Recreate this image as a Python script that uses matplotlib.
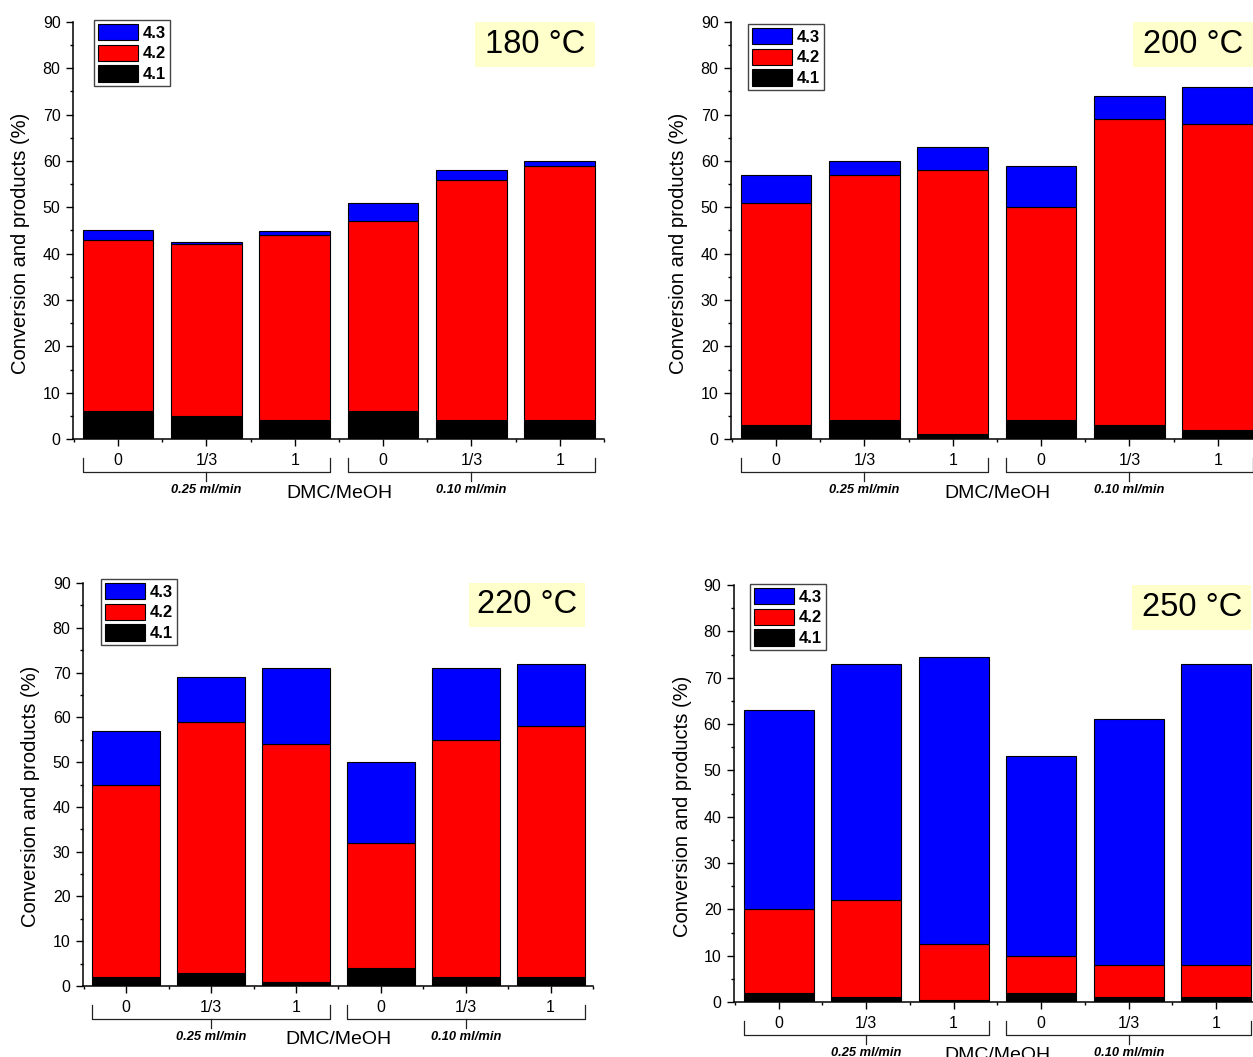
import matplotlib
matplotlib.use("Agg")
import matplotlib.pyplot as plt
from matplotlib.patches import Rectangle
from matplotlib.transforms import blended_transform_factory
import numpy as np

plt.rcParams['font.family'] = ['Liberation Sans', 'DejaVu Sans']

W, H, DPI = 1253, 1057, 100

# DMC/MeOH ratios (two feed flow groups of three)
ratio_labels = ["0", "1/3", "1", "0", "1/3", "1"]
flow_labels = ["0.25 ml/min", "0.10 ml/min"]
series_names = ["4.1", "4.2", "4.3"]
series_colors = ["#000000", "#FF0000", "#0000FF"]

# Product yields (%) per temperature, stacked 4.1 / 4.2 / 4.3
temp_180 = "180 °C"
p41_180 = [6, 5, 4, 6, 4, 4]
p42_180 = [37, 37, 40, 41, 52, 55]
p43_180 = [2, 0.5, 1, 4, 2, 1]

temp_200 = "200 °C"
p41_200 = [3, 4, 1, 4, 3, 2]
p42_200 = [48, 53, 57, 46, 66, 66]
p43_200 = [6, 3, 5, 9, 5, 8]

temp_220 = "220 °C"
p41_220 = [2, 3, 1, 4, 2, 2]
p42_220 = [43, 56, 53, 28, 53, 56]
p43_220 = [12, 10, 17, 18, 16, 14]

temp_250 = "250 °C"
p41_250 = [2, 1, 0.5, 2, 1, 1]
p42_250 = [18, 21, 12, 8, 7, 7]
p43_250 = [43, 51, 62, 43, 53, 65]

panels = [
    # (title, series, axes box in pixels: left, right, top, bottom, legend corner)
    (temp_180, (p41_180, p42_180, p43_180), (73, 604, 22, 439), (94, 20)),
    (temp_200, (p41_200, p42_200, p43_200), (731, 1262, 22, 439), (748, 24)),
    (temp_220, (p41_220, p42_220, p43_220), (83, 593, 583, 986), (101, 579)),
    (temp_250, (p41_250, p42_250, p43_250), (734, 1260, 585, 1002), (750, 584)),
]

fig = plt.figure(figsize=(W / DPI, H / DPI), dpi=DPI)

x = np.arange(len(ratio_labels))

for title, series, (l, r, t, b), (lx, ly) in panels:
    w_px, h_px = r - l, b - t
    ax = fig.add_axes([l / W, 1 - b / H, w_px / W, h_px / H])
    bottom = np.zeros(len(x))
    bars = []
    for vals, name, col in zip(series, series_names, series_colors):
        vals = np.asarray(vals, dtype=float)
        bc = ax.bar(x, vals, width=0.8, bottom=bottom, color=col,
                    edgecolor='black', linewidth=0.8, label=name, zorder=2)
        bars.append(bc)
        bottom = bottom + vals

    ax.set_xlim(-0.51, 5.5)
    ax.set_ylim(0, 90)
    ax.spines['top'].set_visible(False)
    ax.spines['right'].set_visible(False)
    for s in ('left', 'bottom'):
        ax.spines[s].set_linewidth(1.1)

    ax.set_yticks(np.arange(0, 91, 10))
    ax.set_yticks(np.arange(5, 90, 10), minor=True)
    ax.set_xticks(x)
    ax.set_xticklabels(ratio_labels)
    ax.set_xticks(np.arange(-0.5, 6, 1), minor=True)
    ax.tick_params(which='major', direction='out', length=5, width=1.0,
                   labelsize=11.5, pad=4)
    ax.tick_params(axis='x', which='major', pad=5)
    ax.tick_params(which='minor', direction='out', length=2.5, width=1.0)

    # y-axis title
    ax.text(-52 / w_px, 0.47, "Conversion and products (%)", rotation=90,
            ha='center', va='center', transform=ax.transAxes, fontsize=14.5)

    # group brackets under the ratio labels
    tr = blended_transform_factory(ax.transData, ax.transAxes)
    y_end, y_line, y_mid = -19 / h_px, -33 / h_px, -42 / h_px
    for (x0, x1, xc), flow in zip(((-0.4, 2.4, 1), (2.6, 5.4, 4)), flow_labels):
        ax.plot([x0, x0, x1, x1], [y_end, y_line, y_line, y_end],
                transform=tr, clip_on=False, color='#222222', lw=0.9)
        ax.plot([xc, xc], [y_line, y_mid], transform=tr, clip_on=False,
                color='#222222', lw=0.9)
        ax.text(xc, -51 / h_px, flow, transform=tr, ha='center', va='center',
                fontsize=9.3, fontweight='bold', fontstyle='italic')
    ax.text(2.5, -54 / h_px, "DMC/MeOH", transform=tr, ha='center',
            va='center', fontsize=14)

    # temperature tag
    ax.add_patch(Rectangle((4.04, 80.2), 1.36, 9.7, facecolor='#FFFFCC',
                           edgecolor='none', clip_on=False, zorder=3))
    ax.text(4.72, 85.1, title, ha='center', va='center', fontsize=23.5,
            zorder=4)

    handles = [bars[2], bars[1], bars[0]]
    leg = ax.legend(handles, [series_names[2], series_names[1], series_names[0]],
                    loc='upper left', bbox_to_anchor=(lx / W, 1 - ly / H),
                    bbox_transform=fig.transFigure, borderaxespad=0,
                    prop={'weight': 'bold', 'size': 12},
                    handlelength=2.4, handleheight=1.14, labelspacing=0.23,
                    borderpad=0.23, handletextpad=0.3, fancybox=False,
                    framealpha=1)
    leg.get_frame().set_edgecolor('#444444')
    leg.get_frame().set_linewidth(1.0)

fig.savefig("out.png", dpi=DPI)
